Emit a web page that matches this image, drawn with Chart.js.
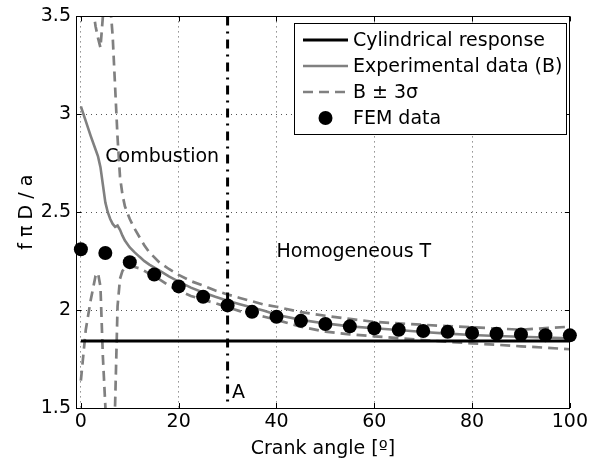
<!DOCTYPE html>
<html><head><meta charset="utf-8">
<script src="https://cdn.jsdelivr.net/npm/chart.js@4.4.0/dist/chart.umd.min.js"></script>
<style>html,body{margin:0;padding:0;background:#fff;}canvas{display:block;}</style>
</head><body>
<canvas id="c" width="591" height="465"></canvas>
<script>
// ---- data ----
const xTicks = [0, 20, 40, 60, 80, 100];
const yTicks = [1.5, 2, 2.5, 3, 3.5];
const yTickLabels = ['1.5', '2', '2.5', '3', '3.5'];
const seriesNames = ['Cylindrical response', 'Experimental data (B)', 'B \u00b1 3\u03c3', 'FEM data'];
const xTitle = 'Crank angle [\u00ba]';
const yTitle = 'f \u03c0 D / a';

const cylAngle = [0, 100];
const cylValue = [1.842, 1.842];

const angleB = [0,1,2,3,3.5,4,4.5,5,5.5,6,6.5,7,7.5,8,8.5,9,10,11,12,13,14,16,18,20,22.5,25,27.5,30,32.5,35,37.5,40,45,50,55,60,65,70,75,80,85,90,95,100];
const expB = [3.04,2.965,2.89,2.82,2.785,2.73,2.64,2.55,2.50,2.465,2.44,2.425,2.432,2.41,2.38,2.355,2.32,2.295,2.272,2.25,2.232,2.203,2.172,2.145,2.115,2.09,2.068,2.048,2.03,2.013,1.997,1.976,1.95,1.932,1.917,1.907,1.898,1.888,1.88,1.873,1.868,1.864,1.86,1.856];
const upperB = [4.45,4.0,3.62,3.45,3.39,3.34,3.50,3.62,3.70,3.56,3.40,3.14,2.88,2.68,2.59,2.53,2.465,2.415,2.372,2.33,2.295,2.245,2.21,2.18,2.148,2.125,2.10,2.08,2.062,2.045,2.028,2.017,1.99,1.971,1.955,1.94,1.932,1.925,1.918,1.912,1.906,1.90,1.908,1.915];
const lowerB = [1.64,1.90,2.05,2.175,2.19,2.12,1.76,1.51,1.25,1.15,1.25,1.52,2.02,2.16,2.20,2.215,2.222,2.22,2.213,2.20,2.185,2.158,2.125,2.10,2.072,2.053,2.035,2.015,1.995,1.98,1.966,1.95,1.915,1.89,1.876,1.866,1.857,1.847,1.838,1.83,1.823,1.815,1.808,1.80];

const femAngle = [0,5,10,15,20,25,30,35,40,45,50,55,60,65,70,75,80,85,90,95,100];
const femValue = [2.311,2.292,2.245,2.182,2.121,2.068,2.024,1.991,1.966,1.945,1.929,1.917,1.907,1.900,1.893,1.889,1.883,1.879,1.876,1.872,1.871];

const markerAngle = [30, 30];
const markerValue = [3.5, 1.53];

const notes = [
  {text: 'Combustion', x: 5, y: 2.755},
  {text: 'Homogeneous T', x: 40, y: 2.27},
  {text: 'A', x: 30.9, y: 1.551}
];

// ---- build ----
const pts = (xs, ys) => xs.map((x, i) => ({x, y: ys[i]}));
const GRAY = '#808080';
const FONT = 'DejaVu Sans';

Chart.defaults.font.family = FONT;
Chart.defaults.font.size = 19;
Chart.defaults.color = '#000';

const styles = {
  cyl: {color: '#000', width: 3, dash: []},
  exp: {color: GRAY, width: 2.6, dash: []},
  band: {color: GRAY, width: 2.7, dash: [10, 6]},
  marker: {color: '#000', width: 3, dash: [9, 6, 2, 6]}
};

const frameTicks = {
  id: 'frameTicks',
  afterDatasetsDraw(chart) {
    const {ctx, chartArea: a, scales} = chart;
    ctx.save();
    ctx.strokeStyle = '#000';
    ctx.lineWidth = 1;
    ctx.setLineDash([]);
    ctx.strokeRect(Math.round(a.left) + 0.5, Math.round(a.top) + 0.5, Math.round(a.right - a.left) - 1, Math.round(a.bottom - a.top));
    ctx.beginPath();
    xTicks.forEach(v => {
      const p = Math.round(scales.x.getPixelForValue(v)) + 0.5;
      ctx.moveTo(p, a.bottom); ctx.lineTo(p, a.bottom - 5);
      ctx.moveTo(p, a.top); ctx.lineTo(p, a.top + 5);
    });
    yTicks.forEach(v => {
      const p = Math.round(scales.y.getPixelForValue(v)) + 0.5;
      ctx.moveTo(a.left, p); ctx.lineTo(a.left + 5, p);
      ctx.moveTo(a.right, p); ctx.lineTo(a.right - 5, p);
    });
    ctx.stroke();
    // annotations
    ctx.fillStyle = '#000';
    ctx.font = '19px "' + FONT + '"';
    ctx.textBaseline = 'alphabetic';
    ctx.textAlign = 'left';
    notes.forEach(n => ctx.fillText(n.text, scales.x.getPixelForValue(n.x), scales.y.getPixelForValue(n.y)));
    // legend
    const L = 294.5, T = 23.5, W = 272, H = 111;
    ctx.fillStyle = '#fff';
    ctx.fillRect(L, T, W, H);
    ctx.strokeRect(L, T, W, H);
    const rows = [40, 66, 92, 118];
    const sx0 = 303, sx1 = 348, tx = 353;
    const drawSample = (s, y) => {
      ctx.beginPath();
      ctx.strokeStyle = s.color; ctx.lineWidth = s.width; ctx.setLineDash(s.dash);
      ctx.moveTo(sx0, y); ctx.lineTo(sx1, y); ctx.stroke();
      ctx.setLineDash([]);
    };
    drawSample(styles.cyl, rows[0]);
    drawSample(styles.exp, rows[1]);
    drawSample(styles.band, rows[2]);
    ctx.beginPath(); ctx.fillStyle = '#000';
    ctx.arc((sx0 + sx1) / 2, rows[3], 7, 0, Math.PI * 2); ctx.fill();
    ctx.fillStyle = '#000';
    ctx.textBaseline = 'middle';
    seriesNames.forEach((t, i) => ctx.fillText(t, tx, rows[i] + 1));
    ctx.restore();
  }
};

const lineDs = (label, data, s, order) => ({
  label, data, order,
  borderColor: s.color, borderWidth: s.width, borderDash: s.dash,
  pointRadius: 0, showLine: true, fill: false, tension: 0
});

new Chart(document.getElementById('c'), {
  type: 'scatter',
  data: {
    datasets: [
      {label: seriesNames[3], data: pts(femAngle, femValue), order: 0,
       pointRadius: 7, pointBackgroundColor: '#000', pointBorderWidth: 0, borderWidth: 0, showLine: false, clip: false},
      lineDs(seriesNames[0], pts(cylAngle, cylValue), styles.cyl, 1),
      lineDs('A', pts(markerAngle, markerValue), styles.marker, 2),
      lineDs(seriesNames[1], pts(angleB, expB), styles.exp, 3),
      lineDs(seriesNames[2], pts(angleB, upperB), styles.band, 4),
      lineDs(seriesNames[2], pts(angleB, lowerB), styles.band, 5)
    ]
  },
  options: {
    responsive: false,
    devicePixelRatio: 1,
    animation: false,
    events: [],
    layout: {padding: {left: 0, top: 16, right: 18, bottom: 0}},
    plugins: {legend: {display: false}, tooltip: {enabled: false}},
    scales: {
      x: {
        type: 'linear', min: -1, max: 100,
        afterBuildTicks: s => { s.ticks = xTicks.map(v => ({value: v})); },
        afterFit: s => { s.height = 57; },
        grid: {color: '#555', lineWidth: 1, drawTicks: false},
        border: {display: false, dash: [1, 4]},
        ticks: {padding: 3, maxRotation: 0, autoSkip: false, callback: v => String(v)},
        title: {display: true, text: xTitle, padding: {top: 0, bottom: 5}}
      },
      y: {
        type: 'linear', min: 1.5, max: 3.5,
        afterBuildTicks: s => { s.ticks = yTicks.map(v => ({value: v})); },
        afterFit: s => { s.width = 76; },
        grid: {color: '#555', lineWidth: 1, drawTicks: false},
        border: {display: false, dash: [1, 4]},
        ticks: {padding: 5, autoSkip: false, callback: (v, i) => yTickLabels[yTicks.indexOf(v)] ?? String(v)},
        title: {display: true, text: yTitle, padding: {top: 16, bottom: 0}}
      }
    }
  },
  plugins: [frameTicks]
});
</script>
</body></html>
